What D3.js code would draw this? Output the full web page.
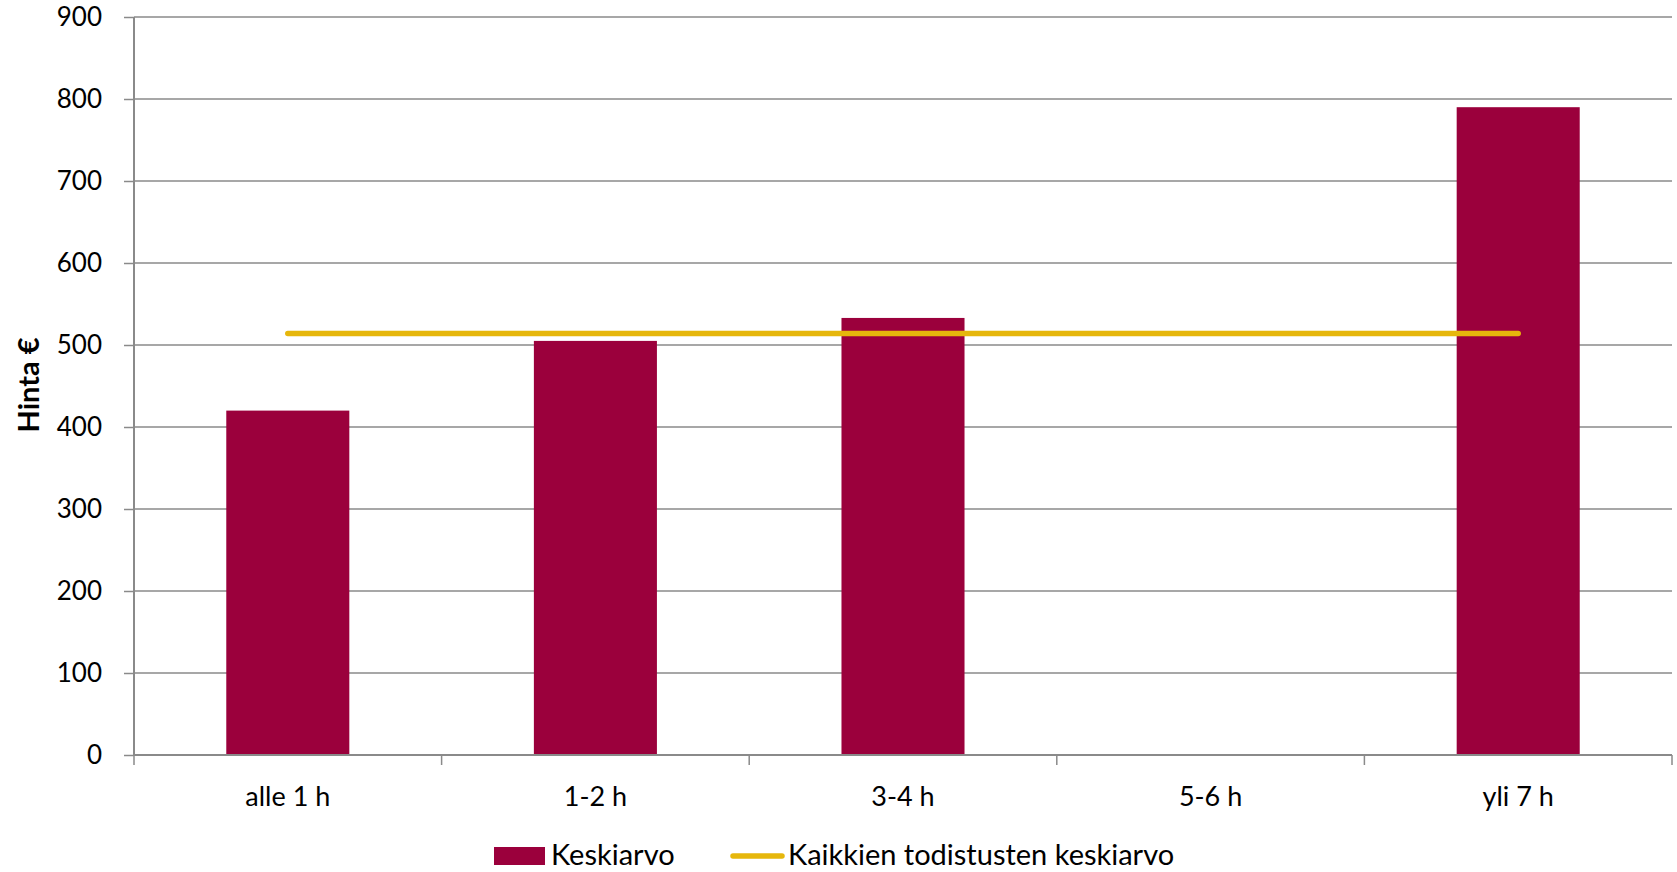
<!DOCTYPE html>
<html><head><meta charset="utf-8">
<script src="https://cdn.jsdelivr.net/npm/d3@7"></script>
<style>body{margin:0;background:#fff}svg{display:block}text{font-family:Lato,"Noto Sans",sans-serif;fill:#000}</style>
</head><body><svg id="c" width="1677" height="872"></svg>
<script>
const categories = ["alle 1 h","1-2 h","3-4 h","5-6 h","yli 7 h"];
const keskiarvo = [420, 505, 533, null, 790];
const kaikkienKeskiarvo = [514, 514, 514, 514, 514];
const yTicks = [0,100,200,300,400,500,600,700,800,900];
const seriesNames = ["Keskiarvo","Kaikkien todistusten keskiarvo"];
const yTitle = "Hinta €";

const svg = d3.select("#c");
const m = {l:134, r:5, t:17, b:117};
const W = 1677, H = 872;
const x = d3.scaleBand().domain(categories).range([m.l, W-m.r]).paddingInner(0.6).paddingOuter(0.3);
const xb = d3.scaleBand().domain(categories).range([m.l, W-m.r]);
const y = d3.scaleLinear().domain([0,900]).range([H-m.b, m.t]);
const grid = "#8a8a8a";

// gridlines
svg.append("g").selectAll("line").data(yTicks.filter(d=>d>0)).join("line")
  .attr("x1", m.l).attr("x2", W-m.r).attr("y1", d=>y(d)).attr("y2", d=>y(d))
  .attr("stroke", grid).attr("stroke-width", 1.5);

// bars
svg.append("g").selectAll("rect").data(categories.map((c,i)=>({c,v:keskiarvo[i]})).filter(d=>d.v!=null)).join("rect")
  .attr("x", d=>x(d.c)).attr("width", x.bandwidth())
  .attr("y", d=>y(d.v)).attr("height", d=>y(0)-y(d.v))
  .attr("fill", "#9b003c");

// y axis
const ya = svg.append("g").attr("transform", `translate(${m.l},0)`)
  .call(d3.axisLeft(y).tickValues(yTicks).tickSize(10).tickPadding(22).tickFormat(d3.format("d")));
ya.select(".domain").attr("stroke", grid).attr("stroke-width", 2).attr("d", `M0,${m.t}V${H-m.b}`);
ya.selectAll(".tick line").attr("stroke", grid).attr("stroke-width", 1.5);
ya.selectAll(".tick text").attr("font-size", 26).attr("font-family", "Lato,sans-serif").attr("fill", "#000");

// x axis
const xa = svg.append("g").attr("transform", `translate(0,${H-m.b})`)
  .call(d3.axisBottom(xb).tickSize(0).tickPadding(32));
xa.select(".domain").attr("stroke", grid).attr("stroke-width", 2).attr("d", `M${m.l},0H${W-m.r}`);
xa.selectAll(".tick text").attr("font-size", 27).attr("font-family", "Lato,sans-serif").attr("fill", "#000");
const bounds = categories.map(c=>xb(c)).concat([W-m.r]);
svg.append("g").selectAll("line").data(bounds).join("line")
  .attr("x1", d=>d).attr("x2", d=>d).attr("y1", H-m.b).attr("y2", H-m.b+10)
  .attr("stroke", grid).attr("stroke-width", 1.5);

// average line
const line = d3.line().x((d,i)=>xb(categories[i])+xb.bandwidth()/2).y(d=>y(d));
svg.append("path").datum(kaikkienKeskiarvo).attr("d", line)
  .attr("fill","none").attr("stroke","#e6b70c").attr("stroke-width",5.5).attr("stroke-linecap","round");

// y title
svg.append("text").attr("transform", "translate(39,385) rotate(-90)").attr("text-anchor","middle")
  .attr("font-size", 29).attr("font-weight","bold").text(yTitle);

// legend
const lg = svg.append("g");
lg.append("rect").attr("x",494).attr("y",847).attr("width",51).attr("height",18).attr("fill","#9b003c");
lg.append("text").attr("x",551).attr("y",865).attr("font-size",29).text(seriesNames[0]);
lg.append("line").attr("x1",733).attr("x2",782).attr("y1",856).attr("y2",856)
  .attr("stroke","#e6b70c").attr("stroke-width",5.5).attr("stroke-linecap","round");
lg.append("text").attr("x",788).attr("y",865).attr("font-size",29).text(seriesNames[1]);
</script></body></html>
